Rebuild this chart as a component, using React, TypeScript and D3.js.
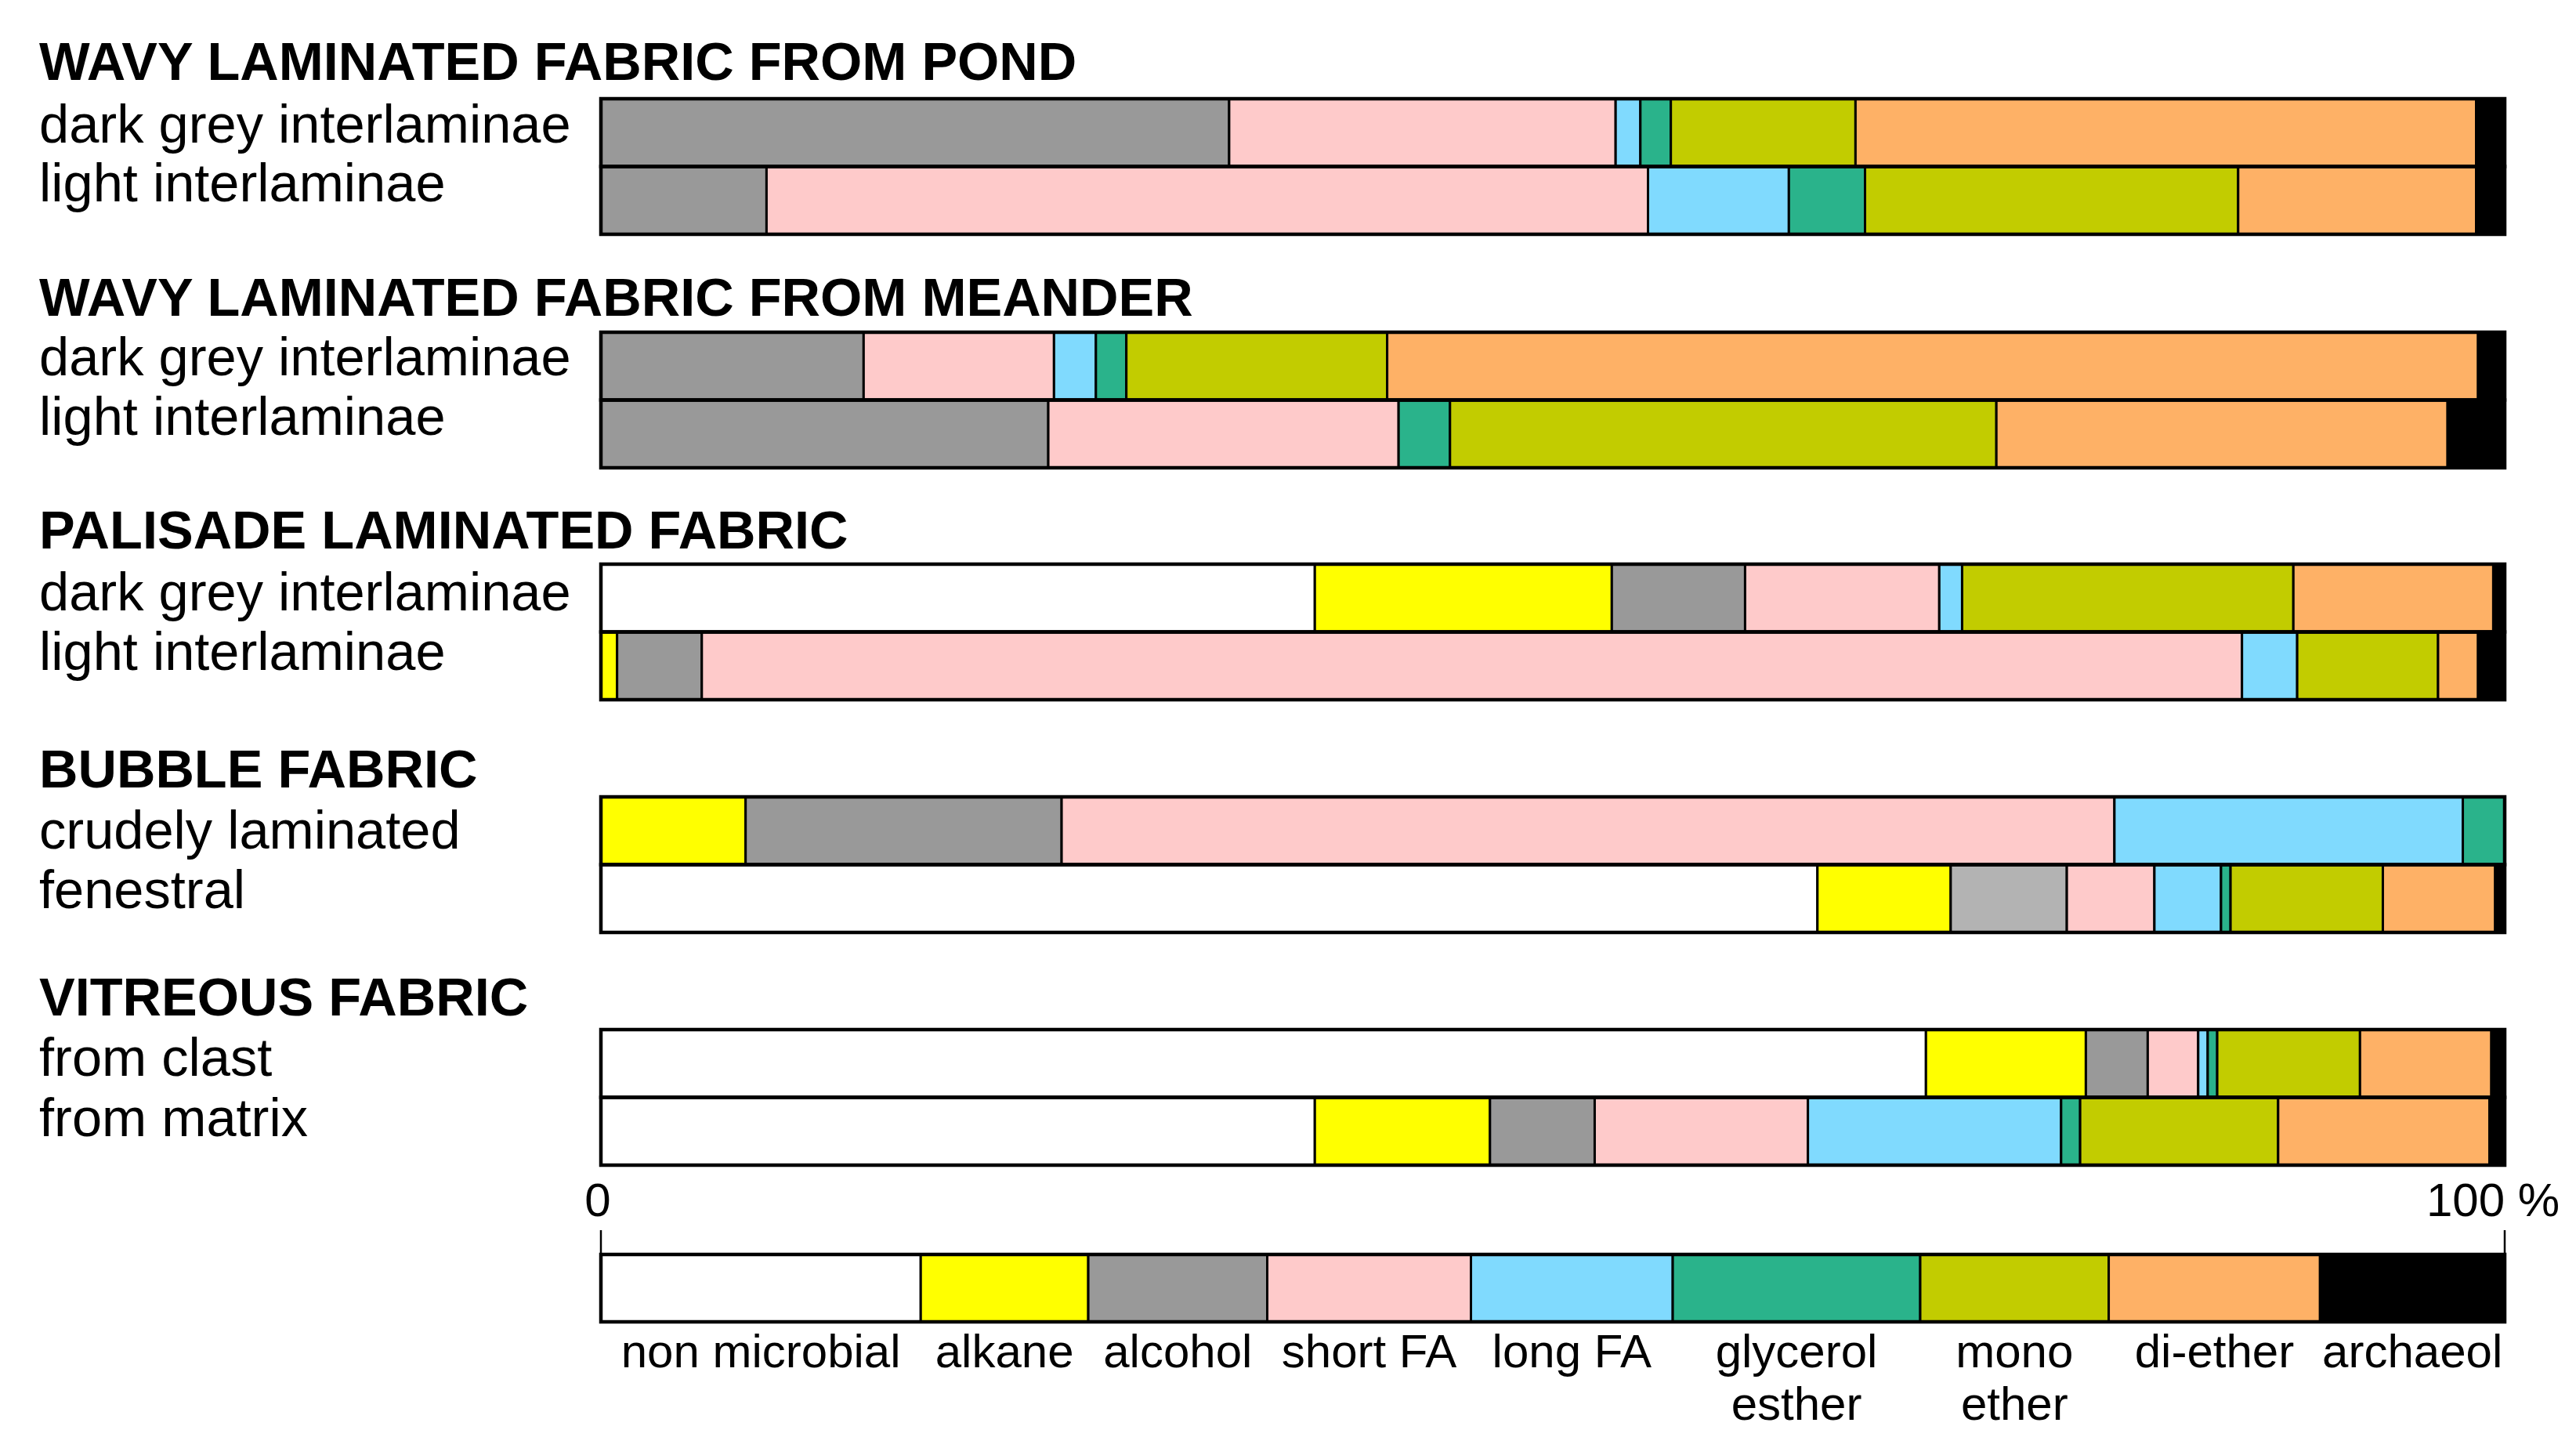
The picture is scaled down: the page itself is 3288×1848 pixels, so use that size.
import React from "react";
import * as d3 from "d3";

// ---------- data ----------
const categories = [
  "non microbial",
  "alkane",
  "alcohol",
  "short FA",
  "long FA",
  "glycerol esther",
  "mono ether",
  "di-ether",
  "archaeol",
];
const legendLabelLines = [
  ["non microbial"],
  ["alkane"],
  ["alcohol"],
  ["short FA"],
  ["long FA"],
  ["glycerol", "esther"],
  ["mono", "ether"],
  ["di-ether"],
  ["archaeol"],
];
const categoryColors = [
  "#ffffff",
  "#ffff00",
  "#999999",
  "#fecaca",
  "#80dafe",
  "#2ab38b",
  "#c2cc00",
  "#feb166",
  "#000000",
];
const groupTitles = [
  "WAVY LAMINATED FABRIC FROM POND",
  "WAVY LAMINATED FABRIC FROM MEANDER",
  "PALISADE LAMINATED FABRIC",
  "BUBBLE FABRIC",
  "VITREOUS FABRIC",
];
const rowLabels = [
  "dark grey interlaminae",
  "light interlaminae",
  "dark grey interlaminae",
  "light interlaminae",
  "dark grey interlaminae",
  "light interlaminae",
  "crudely laminated",
  "fenestral",
  "from clast",
  "from matrix",
];
const rowGroup = [0, 0, 1, 1, 2, 2, 3, 3, 4, 4];

// percent of each fraction per sample (rows in the order of rowLabels)
const nonMicrobial = [0, 0, 0, 0, 37.5, 0, 0, 63.9, 69.6, 37.5];
const alkane = [0, 0, 0, 0, 15.6, 0.85, 7.6, 7.0, 8.4, 9.2];
const alcohol = [33.0, 8.7, 13.8, 23.5, 7.0, 4.45, 16.6, 6.1, 3.25, 5.5];
const shortFA = [20.3, 46.3, 10.0, 18.4, 10.2, 80.9, 55.3, 4.6, 2.65, 11.2];
const longFA = [1.3, 7.4, 2.2, 0, 1.2, 2.9, 18.3, 3.5, 0.5, 13.3];
const glycerolEsther = [1.6, 4.0, 1.6, 2.7, 0, 0, 2.2, 0.5, 0.5, 1.0];
const monoEther = [9.7, 19.6, 13.7, 28.7, 17.4, 7.4, 0, 8.0, 7.5, 10.4];
const diEther = [32.6, 12.5, 57.3, 23.7, 10.5, 2.1, 0, 5.9, 6.9, 11.1];
const archaeol = [1.5, 1.5, 1.4, 3.0, 0.6, 1.4, 0, 0.5, 0.7, 0.8];
// rows whose alcohol fraction is drawn in a lighter grey
const lightAlcoholRows = ["fenestral"];

const series = [
  nonMicrobial,
  alkane,
  alcohol,
  shortFA,
  longFA,
  glycerolEsther,
  monoEther,
  diEther,
  archaeol,
];

// legend key widths (share of the 0–100 % scale)
const legendWidths = [16.8, 8.8, 9.4, 10.7, 10.6, 13.0, 9.9, 11.1, 9.7];
const axisTickLabels = ["0", "100 %"];

// ---------- layout ----------
const W = 3288;
const H = 1848;
const X0 = 767;
const X1 = 3197;
const BAR_H = 86.5;
const groupTops = [126, 424, 720, 1017, 1314];
const titleBaselines = [102, 403, 700, 1005, 1296];
const labelBaselines = [182, 257, 479, 555, 779, 855, 1083, 1159, 1373, 1450];
const LEG_TOP = 1601;
const LEG_H = 86;
const FONT = "'Liberation Sans', Arial, Helvetica, sans-serif";

export default function App() {
  const x = d3.scaleLinear().domain([0, 100]).range([X0, X1]);

  const tableRows = rowLabels.map((label, i) => {
    const o: any = { label, idx: i };
    categories.forEach((c, k) => (o[c] = series[k][i]));
    return o;
  });
  const stacked = d3.stack<any>().keys(categories)(tableRows);

  const rowTop = (i: number) => {
    const g = rowGroup[i];
    const within = i - rowGroup.indexOf(g);
    return groupTops[g] + within * BAR_H;
  };

  const legendStack = d3.cumsum(legendWidths);

  return (
    <svg
      width={W}
      height={H}
      viewBox={`0 0 ${W} ${H}`}
      style={{ position: "absolute", left: 0, top: 0, background: "#fff" }}
      fontFamily={FONT}
    >
      <rect x={0} y={0} width={W} height={H} fill="#fff" />
      {groupTitles.map((t, g) => (
        <text key={t} x={50} y={titleBaselines[g]} fontSize={68.5} fontWeight="bold" fill="#000">
          {t}
        </text>
      ))}
      {rowLabels.map((l, i) => (
        <text key={i} x={50} y={labelBaselines[i]} fontSize={68.6} fill="#000">
          {l}
        </text>
      ))}

      {/* bars */}
      {stacked.map((layer, k) =>
        layer.map((d, i) => {
          const w = x(d[1]) - x(d[0]);
          if (w <= 0.01) return null;
          let fill = categoryColors[k];
          if (categories[k] === "alcohol" && lightAlcoholRows.includes(rowLabels[i])) fill = "#b3b3b3";
          return (
            <rect
              key={`${k}-${i}`}
              x={x(d[0])}
              y={rowTop(i)}
              width={w}
              height={BAR_H}
              fill={fill}
              stroke="#000"
              strokeWidth={3}
            />
          );
        })
      )}
      {rowLabels.map((_, i) => (
        <rect
          key={`o${i}`}
          x={x(0)}
          y={rowTop(i)}
          width={x(100) - x(0)}
          height={BAR_H}
          fill="none"
          stroke="#000"
          strokeWidth={4.5}
        />
      ))}

      {/* scale */}
      <text x={x(0) - 4} y={1552} fontSize={60} textAnchor="middle">
        {axisTickLabels[0]}
      </text>
      <text x={3097} y={1552} fontSize={60}>
        {axisTickLabels[1]}
      </text>
      <line x1={x(0)} x2={x(0)} y1={1570} y2={LEG_TOP} stroke="#000" strokeWidth={2.5} />
      <line x1={x(100)} x2={x(100)} y1={1570} y2={LEG_TOP} stroke="#000" strokeWidth={2.5} />

      {/* legend */}
      {categories.map((c, k) => {
        const a = k === 0 ? 0 : legendStack[k - 1];
        const b = legendStack[k];
        const cx = (x(a) + x(b)) / 2;
        return (
          <g key={c}>
            <rect
              x={x(a)}
              y={LEG_TOP}
              width={x(b) - x(a)}
              height={LEG_H}
              fill={categoryColors[k]}
              stroke="#000"
              strokeWidth={3}
            />
            {legendLabelLines[k].map((ln, j) => (
              <text key={j} x={cx} y={1745 + j * 67} fontSize={60} textAnchor="middle">
                {ln}
              </text>
            ))}
          </g>
        );
      })}
      <rect
        x={x(0)}
        y={LEG_TOP}
        width={x(100) - x(0)}
        height={LEG_H}
        fill="none"
        stroke="#000"
        strokeWidth={4.5}
      />
    </svg>
  );
}
